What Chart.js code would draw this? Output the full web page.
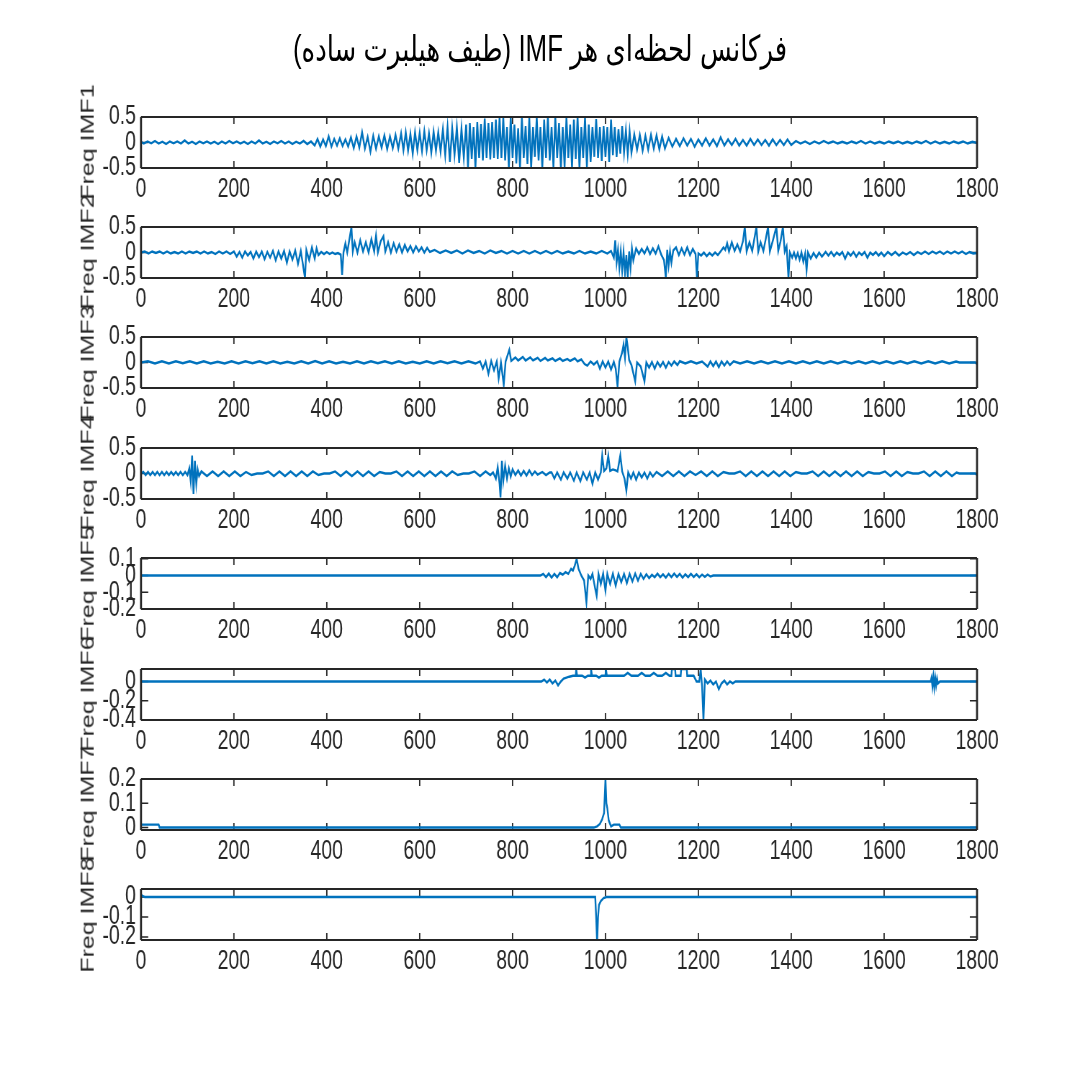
<!DOCTYPE html>
<html>
<head>
<meta charset="utf-8">
<script src="https://cdn.jsdelivr.net/npm/chart.js@4.4.0/dist/chart.umd.min.js"></script>
<style>
  html, body { margin: 0; padding: 0; background: #fff; }
  body { width: 1080px; height: 1080px; overflow: hidden; position: relative; }
  /* the reference figure is squeezed horizontally, so draw wide and squeeze */
  #fig { position: absolute; left: 0; top: 0; width: 1500px; height: 1080px; transform: scaleX(0.72); transform-origin: 0 0; }
  #fig canvas { position: absolute; left: 0; }
  .title { position: absolute; left: 0; width: 1500px; top: 27px; text-align: center;
           font: 36px "Liberation Sans", "DejaVu Sans", sans-serif; color: #000; line-height: 1.2; }
  .ylab { position: absolute; font: 25px "Liberation Sans", sans-serif; color: #262626; white-space: nowrap;
          line-height: 1; transform: translate(-50%, -50%) rotate(-90deg); }
</style>
</head>
<body>
<div id="fig">
  <div class="title" dir="rtl">فرکانس لحظه&zwnj;ای هر IMF (طیف هیلبرت ساده)</div>
</div>
<script>
// ---- data ----
const xTicks = [0, 200, 400, 600, 800, 1000, 1200, 1400, 1600, 1800];
const yLabels = ['Freq IMF1', 'Freq IMF2', 'Freq IMF3', 'Freq IMF4', 'Freq IMF5', 'Freq IMF6', 'Freq IMF7', 'Freq IMF8'];
const yLimits = [[-0.5, 0.5], [-0.5, 0.5], [-0.5, 0.5], [-0.5, 0.5], [-0.2, 0.105], [-0.4, 0.13], [-0.01, 0.2], [-0.215, 0.04]];
const yTicks = [[-0.5, 0, 0.5], [-0.5, 0, 0.5], [-0.5, 0, 0.5], [-0.5, 0, 0.5], [-0.2, -0.1, 0, 0.1], [-0.4, -0.2, 0], [0, 0.1, 0.2], [-0.2, -0.1, 0]];

const imf1 = [
  [0,0.01],[6,-0.02],[14,0.02],[22,-0.015],[30,0.03],[38,-0.02],[46,0.015],[54,-0.03],[62,0.02],[70,-0.015],[78,0.02],[86,-0.02],[94,0.04],[102,-0.02],[110,0.015],[118,-0.03],[126,0.02],[134,-0.015],[142,0.02],[150,-0.02],[158,0.015],[166,-0.03],[174,0.02],[182,-0.02],[190,0.03],[198,-0.015],[206,0.02],[214,-0.02],[222,0.015],[230,-0.03],[238,0.02],[246,-0.02],[254,0.04],[262,-0.02],[270,0.015],[278,-0.03],[286,0.02],[294,-0.015],[302,0.03],[310,-0.02],[318,0.02],[326,-0.03],[334,0.015],[342,-0.02],[350,0.03],[358,-0.03],[366,0.02],
  [374,-0.06],[380,0.07],[386,-0.08],[392,0.06],[398,-0.07],[404,0.12],[410,-0.08],[416,0.07],[422,-0.06],[428,0.08],[434,-0.07],[440,0.06],[446,-0.08],
  [452,0.1],[458,-0.11],[464,0.12],[470,-0.1],[476,0.2],[482,-0.12],[488,0.11],[494,-0.18],[500,0.13],[506,-0.12],[512,0.12],[518,-0.1],[524,0.14],[530,-0.13],[536,0.12],[542,-0.11],[548,0.15],[554,-0.12],
  [560,0.18],[565,-0.15],[570,0.2],[575,-0.16],[580,0.17],[585,-0.22],[590,0.2],[595,-0.15],[600,0.19],[605,-0.17],[610,0.22],[615,-0.15],[620,0.18],[625,-0.2],[630,0.21],[635,-0.16],[640,0.2],[645,-0.18],
  [650,0.26],[655,-0.25],[660,0.3],[665,-0.38],[670,0.28],[675,-0.25],[680,0.3],[685,-0.4],[690,0.27],[695,-0.3],
  [700,0.35],[704,-0.5],[708,0.38],[712,-0.32],[716,0.3],[720,-0.5],[724,0.4],[728,-0.3],[732,0.36],[736,-0.35],[740,0.47],[744,-0.3],[748,0.38],[752,-0.33],[756,0.4],[760,-0.3],[764,0.45],
  [768,-0.32],[772,0.5],[776,-0.3],[780,0.5],[784,-0.35],[788,0.3],[792,-0.5],[796,0.5],[800,-0.3],
  [804,0.35],[808,-0.41],[812,0.28],[816,-0.5],[820,0.5],[824,-0.3],[828,0.32],[832,-0.42],[836,0.48],[840,-0.5],[844,0.3],[848,-0.28],[852,0.5],[856,-0.35],[860,0.3],[864,-0.5],[868,0.45],[872,-0.3],
  [876,0.5],[880,-0.35],[884,0.3],[888,-0.5],[892,0.5],[896,-0.3],[900,0.38],[904,-0.5],[908,0.3],[912,-0.48],[916,0.5],[920,-0.3],[924,0.35],[928,-0.5],[932,0.45],[936,-0.32],[940,0.5],[944,-0.5],[948,0.3],[952,-0.3],[956,0.5],[960,-0.48],
  [964,0.35],[968,-0.38],[972,0.3],[976,-0.28],[980,0.46],[984,-0.3],[988,0.3],[992,-0.36],[996,0.32],[1000,-0.28],[1004,0.3],[1008,-0.38],[1012,0.45],[1016,-0.25],[1020,0.3],[1024,-0.28],
  [1028,0.26],[1032,-0.22],[1036,0.32],[1040,-0.2],[1044,0.24],[1048,-0.22],[1052,0.22],[1056,-0.2],
  [1062,0.16],[1068,-0.14],[1074,0.15],[1080,-0.16],[1086,0.13],[1092,-0.14],[1098,0.15],[1104,-0.12],[1110,0.14],[1116,-0.13],[1122,0.12],[1128,-0.12],
  [1136,0.09],[1144,-0.08],[1152,0.07],[1160,-0.07],[1168,0.08],[1176,-0.06],[1184,0.07],[1192,-0.08],[1200,0.06],[1208,-0.06],[1216,0.08],[1224,-0.06],[1232,0.06],[1240,-0.07],[1248,0.1],[1256,-0.06],[1264,0.06],[1272,-0.05],[1280,0.07],[1288,-0.06],[1296,0.05],[1304,-0.06],[1312,0.07],[1320,-0.05],[1328,0.06],[1336,-0.05],[1344,0.05],[1352,-0.06],[1360,0.06],[1368,-0.05],[1376,0.05],[1384,-0.05],[1392,0.06],[1400,-0.05],
  [1410,0.03],[1420,-0.02],[1430,0.02],[1440,-0.03],[1450,0.02],[1460,-0.02],[1470,0.03],[1480,-0.015],[1490,0.02],[1500,-0.02],[1510,0.015],[1520,-0.02],[1530,0.02],[1540,-0.015],[1550,0.03],[1560,-0.02],[1570,0.02],[1580,-0.02],[1590,0.015],[1600,-0.02],[1610,0.02],[1620,-0.015],[1630,0.02],[1640,-0.02],[1650,0.015],[1660,-0.02],[1670,0.02],[1680,-0.015],[1690,0.03],[1700,-0.02],[1710,0.02],[1720,-0.02],[1730,0.015],[1740,-0.02],[1750,0.02],[1760,-0.015],[1770,0.02],[1780,-0.02],[1790,0.015],[1800,-0.01]
];

const imf2 = [
  [0,0.0],[8,0.02],[16,-0.02],[24,0.02],[32,-0.01],[40,0.02],[48,-0.02],[56,0.02],[64,-0.02],[72,0.01],[80,-0.02],[88,0.02],[96,-0.02],[104,0.02],[112,-0.01],[120,0.02],[128,-0.02],[136,0.02],[144,-0.02],[152,0.01],[160,-0.03],[168,0.02],[176,-0.02],[184,0.02],[192,-0.03],
  [200,0.02],[206,-0.08],[212,0.01],[218,-0.1],[224,0.02],[230,-0.06],[236,0.01],[242,-0.12],[248,0.02],[254,-0.09],[260,0.02],[266,-0.13],[272,0.01],[278,-0.1],[284,0.03],[290,-0.15],[296,0.02],[302,-0.12],[308,0.03],[314,-0.2],[320,0.02],[326,-0.14],[332,0.04],[338,-0.22],
  [344,0.03],[348,-0.2],[353,-0.5],[356,0.05],[362,-0.15],[368,0.1],[374,-0.12],[378,0.08],[382,-0.05],
  [388,0.01],[394,-0.03],[400,0.01],[406,-0.03],[412,0.0],[418,-0.03],[424,-0.01],[430,-0.04],[433,-0.44],[436,0.0],
  [440,0.18],[444,0.0],[448,0.22],[453,0.5],[456,0.02],[460,0.2],[466,0.0],[472,0.24],[478,0.02],[484,0.2],[490,0.0],[496,0.26],[502,0.02],[506,0.33],[510,0.0],[516,0.22],[522,0.32],[526,0.02],[532,0.2],[538,0.0],[544,0.18],[550,0.02],[556,0.16],[562,0.0],[568,0.15],[574,0.02],[580,0.13],[586,0.0],[592,0.12],[598,0.02],[604,0.1],[610,0.0],[616,0.09],[622,0.01],
  [632,0.05],[644,-0.01],[656,0.04],[668,-0.01],[680,0.04],[692,-0.02],[704,0.04],[716,-0.01],[728,0.03],[740,-0.02],[752,0.04],[764,-0.01],[776,0.03],[788,-0.02],[800,0.03],[812,-0.02],[824,0.03],[836,-0.02],[848,0.03],[860,-0.02],[872,0.03],[884,-0.02],[896,0.03],[908,-0.02],[920,0.02],[932,-0.02],[944,0.03],[956,-0.02],[968,0.02],[980,-0.02],[992,0.03],[1004,-0.02],[1012,0.03],
  [1018,-0.1],[1021,0.24],[1024,-0.2],[1027,0.05],[1030,-0.3],[1033,0.02],[1036,-0.35],[1039,0.0],[1042,-0.4],[1045,-0.05],[1048,-0.48],[1051,0.02],[1054,-0.3],[1057,0.08],[1060,-0.15],
  [1066,0.08],[1072,-0.03],[1078,0.07],[1084,-0.02],[1090,0.1],[1096,-0.03],[1102,0.08],[1108,-0.02],[1114,0.12],[1120,-0.04],
  [1126,-0.15],[1130,-0.5],[1133,0.05],[1136,-0.25],[1139,0.02],[1142,-0.2],[1146,0.04],
  [1152,0.1],[1158,-0.05],[1164,0.08],[1170,-0.04],[1176,0.1],[1182,-0.05],[1188,0.07],[1194,-0.03],[1197,-0.5],[1200,-0.02],
  [1206,-0.06],[1212,0.0],[1218,-0.07],[1224,-0.01],[1230,-0.06],[1236,0.0],[1242,-0.05],[1248,0.02],[1254,0.1],[1258,0.05],
  [1262,0.18],[1266,0.02],[1272,0.2],[1278,0.03],[1284,0.16],[1290,0.02],[1296,0.22],[1300,0.5],[1304,0.02],[1310,0.2],[1316,0.03],[1320,0.24],[1325,0.5],[1329,0.02],[1334,0.2],[1340,0.03],[1345,0.26],[1350,0.5],[1354,0.02],[1360,0.22],[1368,0.5],[1372,0.03],[1377,0.22],[1382,0.5],[1386,0.02],[1390,0.12],
  [1394,-0.5],[1397,0.0],
  [1402,-0.1],[1406,0.0],[1410,-0.12],[1414,-0.01],[1418,-0.14],[1422,0.0],[1426,-0.18],[1430,-0.02],[1433,-0.35],[1436,0.0],[1442,-0.12],[1448,-0.01],[1454,-0.1],[1460,0.0],[1466,-0.08],
  [1474,0.01],[1480,-0.06],[1486,0.01],[1492,-0.07],[1498,0.0],[1504,-0.05],[1510,0.01],[1516,-0.12],[1522,0.0],[1528,-0.06],[1534,0.01],[1540,-0.08],[1546,0.0],[1552,-0.05],[1558,0.01],[1564,-0.1],[1570,0.0],[1576,-0.05],[1582,0.01],[1588,-0.06],[1594,0.0],[1600,-0.07],[1608,0.01],[1616,-0.05],[1624,0.01],[1632,-0.06],[1640,0.0],[1648,-0.04],[1656,0.01],[1664,-0.05],[1672,0.01],[1680,-0.03],[1688,0.02],[1696,-0.03],[1704,0.02],[1712,-0.02],[1720,0.02],[1728,-0.03],[1736,0.02],[1744,-0.02],[1752,0.02],[1760,-0.02],[1768,0.02],[1776,-0.03],[1784,0.01],[1792,-0.02],[1800,-0.01]
];

const imf3 = [
  [0,0.0],[15,0.025],[30,-0.02],[45,0.025],[60,-0.02],[75,0.025],[90,-0.015],[105,0.025],[120,-0.02],[135,0.025],[150,-0.02],[165,0.015],[180,-0.02],[195,0.025],[210,-0.02],[225,0.025],[240,-0.015],[255,0.025],[270,-0.02],[285,0.025],[300,-0.02],[315,0.015],[330,-0.02],[345,0.025],[360,-0.02],[375,0.03],[390,-0.02],[405,0.025],[420,-0.02],[435,0.015],[450,-0.02],[465,0.025],[480,-0.02],[495,0.025],[510,-0.015],[525,0.025],[540,-0.02],[555,0.025],[570,-0.02],[585,0.015],[600,-0.02],[615,0.025],[630,-0.02],[645,0.025],[660,-0.015],[675,0.025],[690,-0.02],[705,0.025],[720,-0.02],
  [730,0.02],[736,-0.12],[742,0.02],[748,-0.22],[754,0.03],[760,-0.15],[766,0.02],[770,-0.31],[775,0.0],[781,-0.44],[785,0.02],[793,0.25],[797,0.03],
  [806,0.1],[812,0.04],[822,0.11],[828,0.04],[838,0.1],[844,0.04],[854,0.09],[860,0.03],[870,0.09],[876,0.04],[886,0.08],[892,0.03],[902,0.08],[908,0.03],[918,0.07],[924,0.03],[934,0.08],[940,0.02],[948,0.06],
  [955,-0.03],[961,-0.06],[968,0.02],[975,-0.04],[982,0.02],
  [988,-0.12],[994,0.02],[1000,-0.1],[1006,0.02],[1012,-0.14],[1018,0.01],[1022,-0.12],[1026,-0.47],[1030,0.02],
  [1036,0.2],[1039,0.35],[1042,0.1],[1045,0.5],[1048,0.3],[1051,0.05],
  [1056,-0.05],[1064,-0.37],[1068,0.0],[1076,-0.08],[1084,-0.37],[1088,0.0],
  [1094,-0.1],[1100,0.01],[1106,-0.12],[1112,0.01],[1118,-0.08],[1124,0.01],[1130,-0.1],[1136,0.01],[1142,-0.06],[1148,0.02],[1155,-0.05],
  [1160,0.025],[1172,-0.02],[1184,0.025],[1196,-0.02],[1208,0.02],[1220,-0.08],[1226,0.02],[1232,-0.07],[1238,0.02],[1244,-0.09],[1250,0.02],[1256,-0.06],[1262,0.02],[1268,-0.05],[1276,0.025],[1290,-0.02],[1305,0.025],[1320,-0.02],[1335,0.025],[1350,-0.02],[1365,0.025],[1380,-0.02],[1395,0.025],[1410,-0.02],[1425,0.025],[1440,-0.02],[1455,0.025],[1470,-0.02],[1485,0.025],[1500,-0.02],[1515,0.025],[1530,-0.02],[1545,0.025],[1560,-0.02],[1575,0.025],[1590,-0.02],[1605,0.025],[1620,-0.02],[1635,0.025],[1650,-0.02],[1665,0.025],[1680,-0.02],[1695,0.025],[1710,-0.02],[1725,0.025],[1740,-0.02],[1755,0.02],[1762,0.0],[1796,0.0],[1800,-0.03]
];

const imf4 = [
  [0,0.0],[5,0.03],[10,-0.03],[15,0.03],[20,-0.03],[25,0.03],[30,-0.03],[35,0.03],[40,-0.03],[45,0.03],[50,-0.03],[55,0.03],[60,-0.03],[65,0.03],[70,-0.03],[75,0.03],[80,-0.03],[85,0.03],[90,-0.03],[95,0.03],[100,-0.03],
  [104,0.1],[107,-0.15],[110,0.35],[113,-0.4],[116,0.25],[119,-0.2],[122,0.08],[125,-0.05],
  [130,0.04],[142,-0.05],[154,0.04],[166,-0.05],[178,0.04],[190,-0.05],[202,0.04],[214,-0.05],[226,0.03],[238,-0.03],[250,0.0],[262,0.0],[274,0.04],[286,-0.05],[298,0.04],[310,-0.05],[322,0.04],[334,-0.05],[346,0.04],[358,-0.05],[370,0.04],[382,-0.03],[394,0.0],[406,0.0],[418,0.04],[430,-0.05],[442,0.04],[454,-0.05],[466,0.04],[478,-0.05],[490,0.04],[502,-0.05],[514,0.03],[526,0.0],[538,0.0],[550,0.04],[562,-0.05],[574,0.04],[586,-0.05],[598,0.04],[610,-0.05],[622,0.04],[634,-0.05],[646,0.04],[658,-0.05],[670,0.04],[682,-0.03],[694,0.0],[706,0.0],[718,0.04],[730,-0.05],[742,0.04],[752,-0.03],
  [758,0.02],[764,-0.1],[768,0.12],[772,-0.2],[774,-0.47],[777,0.25],[780,-0.15],[784,0.15],[788,-0.1],[792,0.1],[796,-0.06],[800,0.08],[806,-0.03],
  [812,0.06],[818,-0.04],[824,0.05],[830,-0.04],[836,0.06],[842,-0.03],[848,0.04],[854,-0.02],[864,0.03],[872,-0.03],[880,0.02],
  [884,0.02],[890,-0.1],[896,0.02],[904,-0.12],[910,0.02],[918,-0.1],[924,0.02],[932,-0.14],[938,0.02],[946,-0.15],[952,0.02],[960,-0.12],[966,0.02],[972,-0.2],[978,0.02],[984,-0.12],
  [990,0.02],[993,0.35],[997,0.05],[1002,0.1],[1006,0.35],[1010,0.05],[1016,0.08],[1022,0.06],[1026,0.04],[1032,0.36],[1036,0.04],
  [1041,-0.1],[1045,-0.34],[1049,0.02],
  [1055,-0.1],[1060,0.02],[1066,-0.12],[1072,0.02],[1078,-0.08],[1084,0.02],[1090,-0.1],[1096,0.02],[1102,-0.06],
  [1110,0.03],[1122,-0.05],[1134,0.04],[1146,-0.05],[1158,0.04],[1170,-0.05],[1182,0.04],[1194,-0.03],[1206,0.04],[1218,-0.05],[1230,0.04],[1242,-0.05],[1254,0.03],[1266,0.0],[1278,0.0],[1290,0.04],[1302,-0.05],[1314,0.04],[1326,-0.05],[1338,0.04],[1350,-0.05],[1362,0.04],[1374,-0.05],[1386,0.04],[1398,-0.05],[1410,0.03],[1422,0.0],[1434,0.0],[1446,0.04],[1458,-0.05],[1470,0.04],[1482,-0.05],[1494,0.04],[1506,-0.05],[1518,0.04],[1530,-0.05],[1542,0.04],[1554,-0.05],[1566,0.03],[1578,0.0],[1590,0.0],[1602,0.04],[1614,-0.05],[1626,0.04],[1638,-0.05],[1650,0.03],[1662,0.0],[1674,0.0],[1686,0.04],[1698,-0.05],[1710,0.04],[1722,-0.05],[1734,0.04],[1746,-0.05],[1756,0.02],[1762,0.0],[1796,0.0],[1800,-0.03]
];

const imf5 = [
  [0,0],[860,0],[866,0.01],[872,-0.01],[878,0.012],[884,-0.012],[890,0.01],[896,-0.01],[902,0.015],[908,0.005],[914,0.02],[920,0.01],[926,0.04],[930,0.03],[934,0.06],[938,0.1],[942,0.04],[948,0.0],[954,-0.03],[959,-0.16],[963,0.0],[968,-0.02],[972,0.01],[978,-0.08],[981,-0.12],[985,0.01],[990,-0.05],[995,0.012],[1000,-0.09],[1004,0.01],[1010,-0.05],[1016,0.012],[1022,-0.06],[1028,0.01],[1034,-0.04],[1040,0.01],[1046,-0.045],[1052,0.01],[1058,-0.035],[1064,0.012],[1070,-0.03],[1076,0.01],[1082,-0.02],[1088,0.008],[1094,-0.015],[1100,0.005],[1106,-0.01],[1112,0.012],[1118,-0.01],[1124,0.008],[1130,-0.012],[1136,0.01],[1142,-0.01],[1148,0.012],[1154,-0.008],[1160,0.01],[1166,-0.012],[1172,0.008],[1178,-0.01],[1184,0.01],[1190,-0.008],[1196,0.008],[1202,-0.01],[1208,0.006],[1214,-0.008],[1220,0.006],[1226,-0.006],[1232,0],[1800,0]
];

const imf6 = [
  [0,0],[862,0],[868,0.02],[874,-0.01],[880,0.02],[886,-0.02],[892,0.01],[898,-0.04],[904,0.0],[910,0.03],[916,0.04],[922,0.05],[930,0.06],[936,0.06],[937,0.13],[939,0.06],[950,0.06],[956,0.04],[962,0.06],[968,0.06],[969,0.13],[971,0.06],[980,0.06],[986,0.04],[992,0.06],[1000,0.06],[1001,0.13],[1003,0.06],[1020,0.06],[1040,0.06],[1048,0.09],[1056,0.06],[1070,0.06],[1078,0.09],[1086,0.06],[1096,0.06],[1104,0.09],[1112,0.06],[1122,0.06],[1130,0.09],[1138,0.06],[1142,0.06],[1143,0.13],[1150,0.13],[1151,0.06],[1162,0.06],[1163,0.13],[1175,0.13],[1176,0.06],[1185,0.06],[1190,0.06],[1196,0.0],[1202,0.0],[1205,0.13],[1208,-0.05],[1211,-0.4],[1214,0.02],[1220,-0.02],[1226,0.01],[1232,-0.03],[1238,0.0],[1244,-0.08],[1250,-0.02],[1256,0.01],[1262,-0.03],[1268,0.0],[1274,-0.02],[1280,0.0],[1700,0],[1702,0.04],[1704,-0.05],[1706,0.05],[1708,-0.06],[1710,0.04],[1712,-0.04],[1714,0.03],[1716,-0.02],[1720,0],[1800,0]
];

const imf7 = [
  [0,0.012],[38,0.012],[40,0],[975,0],[982,0.005],[988,0.015],[993,0.035],[997,0.06],[1000,0.2],[1002,0.1],[1004,0.08],[1007,0.03],[1012,0.005],[1018,0.012],[1030,0.012],[1033,0],[1800,0]
];

const imf8 = [
  [0,0.015],[3,0.005],[8,0],[978,0],[980,-0.1],[982,-0.23],[984,-0.1],[986,-0.04],[990,-0.02],[996,-0.005],[1002,0],[1800,0]
];

const series = [imf1, imf2, imf3, imf4, imf5, imf6, imf7, imf8];

// ---- layout (page px; the #fig box is squeezed by 0.72 horizontally) ----
const SQ = 0.72;
const W = 1500;
const PLOT_L = 141 / SQ, PLOT_R = 977 / SQ;
const PAD_T = 12, PLOT_H = 51, X_H = 48;
const fig = document.getElementById('fig');
const tickFont = { family: '"Liberation Sans", Arial, sans-serif', size: 27 };
const ink = '#262626';

const boxTicks = {
  id: 'boxTicks',
  beforeDatasetsDraw(chart) {
    const { ctx, chartArea: a, scales: { x, y } } = chart;
    ctx.save();
    ctx.strokeStyle = ink;
    ctx.lineWidth = 1.8;
    ctx.beginPath();
    x.ticks.forEach(t => {
      const px = x.getPixelForValue(t.value);
      ctx.moveTo(px, a.bottom); ctx.lineTo(px, a.bottom - 7);
      ctx.moveTo(px, a.top); ctx.lineTo(px, a.top + 7);
    });
    ctx.stroke();
    ctx.lineWidth = 1.4;
    ctx.beginPath();
    y.ticks.forEach(t => {
      const py = y.getPixelForValue(t.value);
      ctx.moveTo(a.left, py); ctx.lineTo(a.left + 10, py);
      ctx.moveTo(a.right, py); ctx.lineTo(a.right - 10, py);
    });
    ctx.stroke();
    ctx.restore();
  },
  afterDraw(chart) {
    const { ctx, chartArea: a } = chart;
    ctx.save();
    ctx.strokeStyle = ink;
    ctx.lineWidth = 2;
    ctx.beginPath();
    ctx.moveTo(a.left, a.top); ctx.lineTo(a.right, a.top);
    ctx.moveTo(a.left, a.bottom); ctx.lineTo(a.right, a.bottom);
    ctx.stroke();
    ctx.lineWidth = 2.8;
    ctx.beginPath();
    ctx.moveTo(a.left, a.top); ctx.lineTo(a.left, a.bottom);
    ctx.moveTo(a.right, a.top); ctx.lineTo(a.right, a.bottom);
    ctx.stroke();
    ctx.restore();
  }
};

// keep tick labels from pushing the plot box around
const noPad = s => { s.paddingTop = 0; s.paddingBottom = 0; s.paddingLeft = 0; s.paddingRight = 0; };

series.forEach((pts, i) => {
  const top = 116.5 + i * 110.4;
  const cv = document.createElement('canvas');
  cv.width = W;
  cv.height = PAD_T + PLOT_H + X_H;
  cv.style.top = (top - PAD_T) + 'px';
  fig.appendChild(cv);

  new Chart(cv, {
    type: 'line',
    data: {
      datasets: [{
        data: pts.map(p => ({ x: p[0], y: p[1] })),
        borderColor: '#0072BD',
        borderWidth: 2.4,
        pointRadius: 0,
        tension: 0,
        fill: false,
      }],
    },
    options: {
      responsive: false,
      animation: false,
      events: [],
      layout: { padding: { top: PAD_T, left: 0, right: W - PLOT_R, bottom: 0 } },
      plugins: { legend: { display: false }, tooltip: { enabled: false } },
      scales: {
        x: {
          type: 'linear',
          min: 0,
          max: 1800,
          afterBuildTicks: s => { s.ticks = xTicks.map(v => ({ value: v })); },
          afterFit: s => { s.height = X_H; noPad(s); },
          grid: { display: false, drawTicks: false },
          border: { display: false },
          ticks: { font: tickFont, color: ink, padding: 5, maxRotation: 0, autoSkip: false, callback: v => String(v) },
        },
        y: {
          type: 'linear',
          min: yLimits[i][0],
          max: yLimits[i][1],
          afterBuildTicks: s => { s.ticks = yTicks[i].map(v => ({ value: v })); },
          afterFit: s => { s.width = PLOT_L; noPad(s); },
          grid: { display: false, drawTicks: false },
          border: { display: false },
          ticks: { font: tickFont, color: ink, padding: 7, autoSkip: false, callback: v => String(v) },
        },
      },
    },
    plugins: [boxTicks],
  });

  const lab = document.createElement('div');
  lab.className = 'ylab';
  lab.textContent = yLabels[i];
  lab.style.left = (87 / SQ) + 'px';
  lab.style.top = (top + PLOT_H / 2) + 'px';
  fig.appendChild(lab);
});
</script>
</body>
</html>
